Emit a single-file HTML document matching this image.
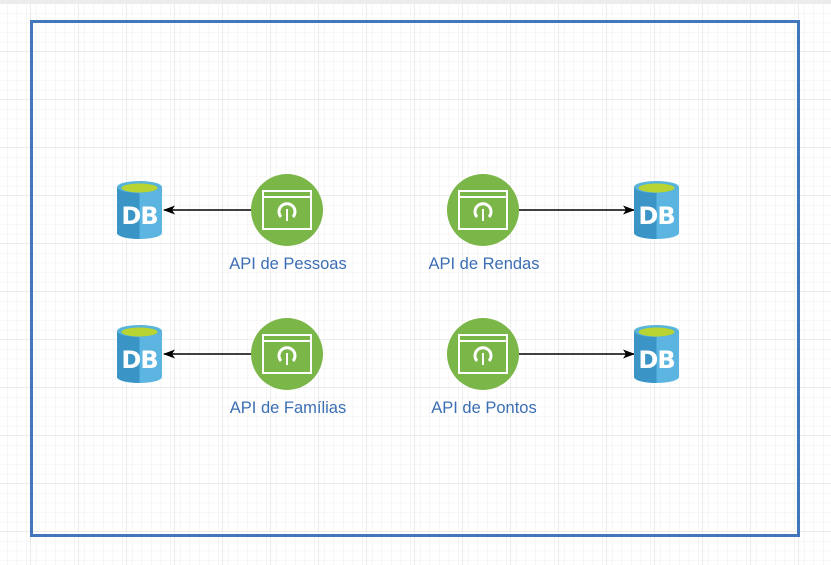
<!DOCTYPE html>
<html><head><meta charset="utf-8"><style>
html,body{margin:0;padding:0;background:#fff;}
svg{display:block;}
text{font-family:"Liberation Sans",sans-serif;font-size:16.5px;fill:#3c6eb4;}
</style></head><body>
<svg width="831" height="565" viewBox="0 0 831 565" xmlns="http://www.w3.org/2000/svg">
<defs>
<pattern id="minor" width="9.6" height="9.6" patternUnits="userSpaceOnUse" x="-2" y="4">
<path d="M9.6 0V9.6M0 9.6H9.6" stroke="#eeeeee" stroke-width="1" fill="none"/>
</pattern>
<pattern id="major" width="48" height="48" patternUnits="userSpaceOnUse" x="-17" y="4">
<path d="M48 0V48M0 48H48" stroke="#d9d9d9" stroke-width="1" fill="none"/>
</pattern>
<g id="db">
<path d="M0 6 V52 A22.5 6 0 0 0 45 52 V6 Z" fill="#5bb5e0"/>
<path d="M0 6 V52 A22.5 6 0 0 0 22.5 58 V6 Z" fill="#3a94c6"/>
<ellipse cx="22.5" cy="6" rx="22.5" ry="6" fill="#59b4d9"/>
<ellipse cx="22.5" cy="7" rx="18" ry="4.5" fill="#b8d432"/>
<text x="22.5" y="43" text-anchor="middle" style="font-family:'DejaVu Sans','Liberation Sans',sans-serif;font-weight:bold;font-size:24px;fill:#fff;letter-spacing:-1px">DB</text>
</g>
<g id="api">
<circle cx="0" cy="0" r="36" fill="#7ab648"/>
<rect x="-24" y="-19" width="48" height="38" fill="none" stroke="#fff" stroke-width="2"/>
<line x1="-24" y1="-13" x2="24" y2="-13" stroke="#fff" stroke-width="2"/>
<path d="M-6 7 A8 8 0 1 1 6 7" fill="none" stroke="#fff" stroke-width="3"/>
<line x1="0" y1="-1" x2="0" y2="11" stroke="#fff" stroke-width="2"/>
</g>
<marker id="arr" markerWidth="12" markerHeight="12" refX="11" refY="6" orient="auto" markerUnits="userSpaceOnUse">
<path d="M0 1.5 L12 6 L0 10.5 L3 6 Z" fill="#000"/>
</marker>
</defs>
<rect width="831" height="565" fill="url(#minor)"/>
<rect width="831" height="565" fill="url(#major)"/>
<rect x="0" y="0" width="831" height="4" fill="#ececec"/>
<rect x="31.5" y="21.5" width="767" height="514" fill="none" stroke="#4277bb" stroke-width="3"/>

<line x1="251" y1="210" x2="164" y2="210" stroke="#000" stroke-width="1.5" marker-end="url(#arr)"/>
<line x1="251" y1="354" x2="164" y2="354" stroke="#000" stroke-width="1.5" marker-end="url(#arr)"/>
<line x1="519" y1="210" x2="634" y2="210" stroke="#000" stroke-width="1.5" marker-end="url(#arr)"/>
<line x1="519" y1="354" x2="634" y2="354" stroke="#000" stroke-width="1.5" marker-end="url(#arr)"/>

<use href="#db" x="117" y="181"/>
<use href="#db" x="117" y="325"/>
<use href="#db" x="634" y="181"/>
<use href="#db" x="634" y="325"/>

<use href="#api" x="287" y="210"/>
<use href="#api" x="483" y="210"/>
<use href="#api" x="287" y="354"/>
<use href="#api" x="483" y="354"/>

<text x="288" y="269" text-anchor="middle">API de Pessoas</text>
<text x="484" y="269" text-anchor="middle">API de Rendas</text>
<text x="288" y="413" text-anchor="middle">API de Famílias</text>
<text x="484" y="413" text-anchor="middle">API de Pontos</text>
</svg>
</body></html>
